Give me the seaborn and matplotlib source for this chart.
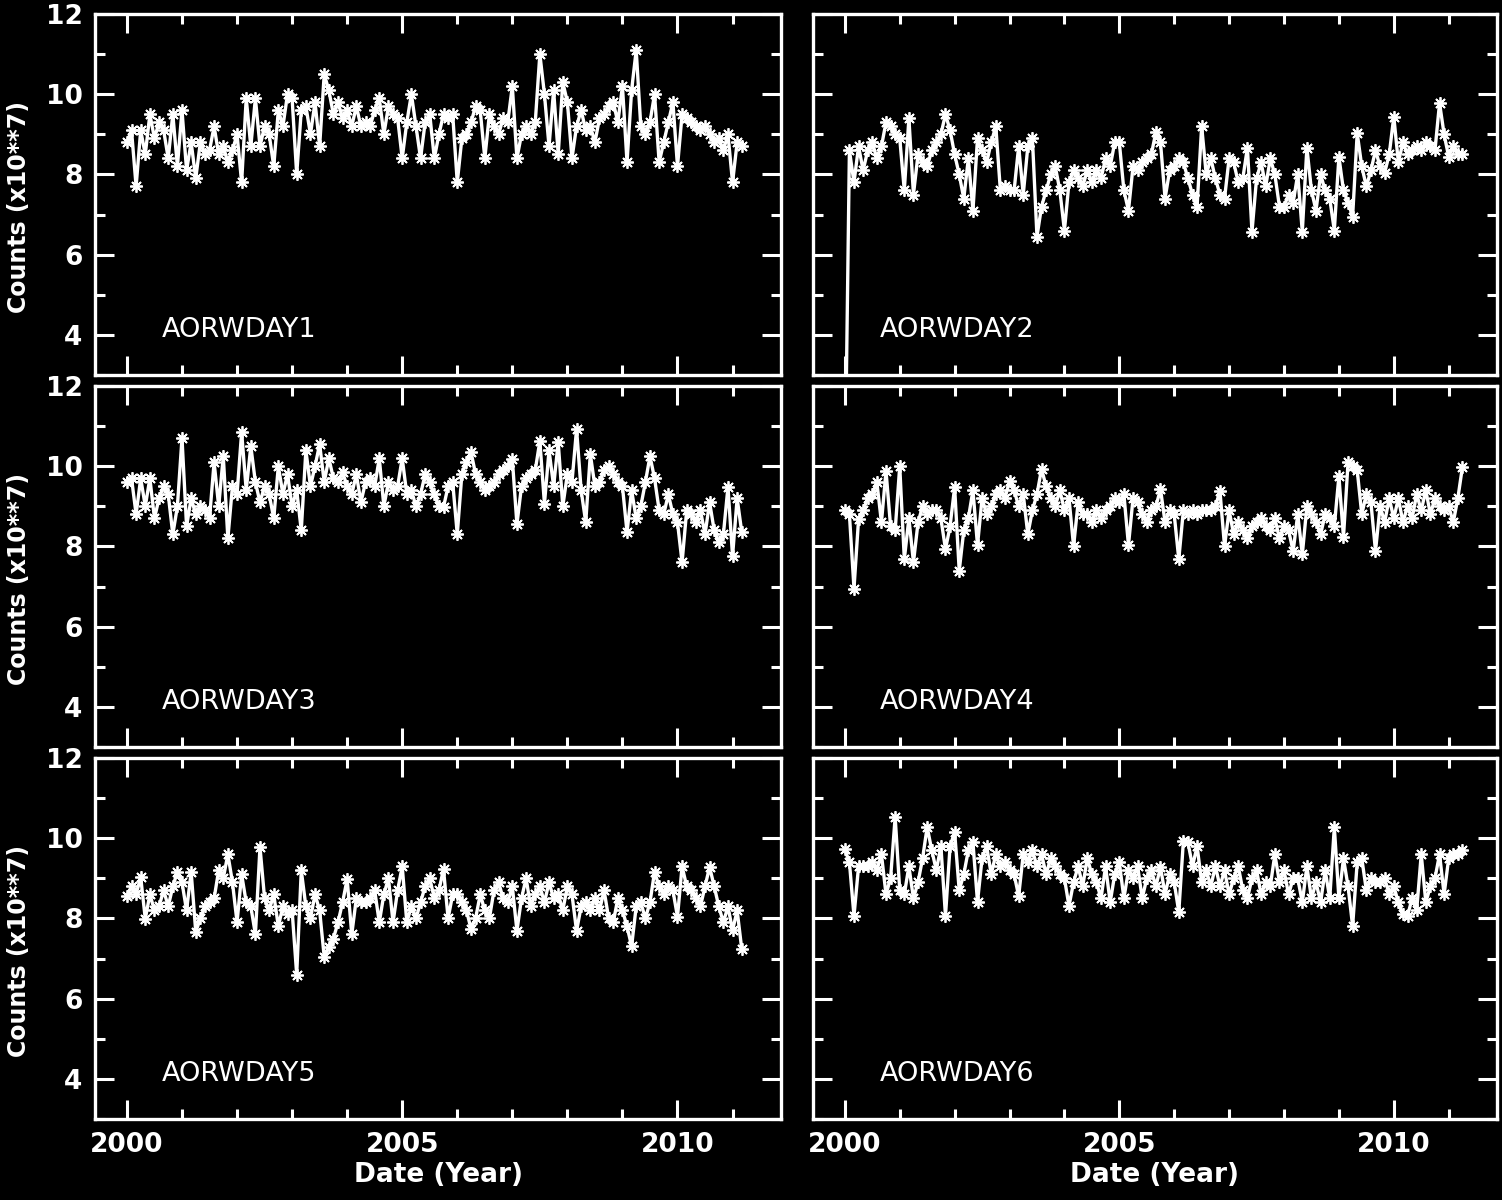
import numpy as np
import pandas as pd
import seaborn as sns
import matplotlib
matplotlib.use('Agg')
import matplotlib.pyplot as plt
from matplotlib.ticker import MultipleLocator

# Monthly counts (x10**7), Jan 2000 onwards
aorwday1 = [
    8.8, 9.1, 7.7, 9.1, 8.5, 9.5, 8.9, 9.3, 9.1, 8.4, 9.5, 8.2,
    9.6, 8.1, 8.8, 7.9, 8.8, 8.5, 8.6, 9.2, 8.5, 8.7, 8.3, 8.6,
    9.0, 7.8, 9.9, 8.7, 9.9, 8.7, 9.2, 9.0, 8.2, 9.6, 9.2, 10.0,
    9.9, 8.0, 9.6, 9.7, 9.0, 9.8, 8.7, 10.5, 10.1, 9.5, 9.8, 9.4,
    9.6, 9.2, 9.7, 9.2, 9.3, 9.2, 9.6, 9.9, 9.0, 9.7, 9.5, 9.4,
    8.4, 9.3, 10.0, 9.2, 8.4, 9.3, 9.5, 8.4, 9.0, 9.5, 9.4, 9.5,
    7.8, 8.9, 9.0, 9.3, 9.7, 9.6, 8.4, 9.5, 9.2, 9.0, 9.4, 9.3,
    10.2, 8.4, 9.0, 9.2, 9.0, 9.3, 11.0, 10.0, 8.7, 10.1, 8.5, 10.3,
    9.8, 8.4, 9.2, 9.6, 9.1, 9.2, 8.8, 9.4, 9.5, 9.7, 9.8, 9.3,
    10.2, 8.3, 10.1, 11.1, 9.2, 9.0, 9.3, 10.0, 8.3, 8.8, 9.3, 9.8,
    8.2, 9.5, 9.4, 9.3, 9.2, 9.1, 9.2, 9.0, 8.8, 8.9, 8.6, 9.0,
    7.8, 8.8, 8.7,
]
aorwday2 = [
    0.0, 8.6, 7.8, 8.7, 8.1, 8.6, 8.8, 8.4, 8.7, 9.3, 9.2, 9.0,
    8.9, 7.6, 9.4, 7.5, 8.5, 8.3, 8.2, 8.6, 8.8, 9.0, 9.5, 9.1,
    8.5, 8.0, 7.4, 8.4, 7.1, 8.9, 8.6, 8.3, 8.8, 9.2, 7.6, 7.7,
    7.6, 7.6, 8.7, 7.5, 8.7, 8.9, 6.45, 7.2, 7.6, 8.0, 8.2, 7.6,
    6.6, 7.8, 8.1, 7.9, 7.7, 8.1, 7.8, 8.1, 7.9, 8.4, 8.2, 8.8,
    8.8, 7.6, 7.1, 8.2, 8.1, 8.3, 8.4, 8.5, 9.06, 8.8, 7.4, 8.1,
    8.2, 8.4, 8.3, 7.9, 7.5, 7.2, 9.2, 8.0, 8.4, 7.9, 7.5, 7.4,
    8.4, 8.3, 7.8, 7.9, 8.67, 6.57, 7.9, 8.3, 7.7, 8.4, 8.0, 7.2,
    7.2, 7.5, 7.3, 8.0, 6.57, 8.67, 7.6, 7.1, 8.0, 7.6, 7.4, 6.6,
    8.44, 7.6, 7.3, 6.95, 9.03, 8.2, 7.7, 8.1, 8.6, 8.2, 8.04, 8.5,
    9.44, 8.3, 8.8, 8.5, 8.6, 8.7, 8.6, 8.8, 8.7, 8.6, 9.78, 9.0,
    8.44, 8.7, 8.5, 8.5,
]
aorwday3 = [
    9.6, 9.7, 8.8, 9.7, 9.0, 9.7, 8.7, 9.2, 9.5, 9.3, 8.3, 9.0,
    10.7, 8.5, 9.2, 8.8, 9.0, 8.9, 8.7, 10.1, 9.0, 10.25, 8.2, 9.5,
    9.3, 10.85, 9.4, 10.5, 9.6, 9.1, 9.5, 9.3, 8.7, 10.0, 9.3, 9.8,
    9.0, 9.4, 8.4, 10.4, 9.5, 10.0, 10.55, 9.6, 10.2, 9.7, 9.6, 9.85,
    9.5, 9.3, 9.8, 9.1, 9.6, 9.7, 9.5, 10.2, 9.0, 9.6, 9.4, 9.5,
    10.2, 9.3, 9.4, 9.0, 9.3, 9.8, 9.6, 9.3, 9.0, 8.98, 9.5, 9.6,
    8.3, 9.8, 10.1, 10.35, 9.8, 9.6, 9.4, 9.5, 9.6, 9.8, 9.9, 10.0,
    10.18, 8.55, 9.5, 9.7, 9.8, 9.9, 10.63, 9.06, 10.4, 9.5, 10.6, 9.0,
    9.8, 9.6, 10.93, 9.4, 8.6, 10.3, 9.5, 9.6, 9.9, 10.0, 9.8, 9.6,
    9.5, 8.35, 9.4, 8.7, 9.0, 9.6, 10.25, 9.7, 8.9, 8.8, 9.3, 8.8,
    8.6, 7.6, 8.9, 8.8, 8.6, 8.9, 8.3, 9.1, 8.4, 8.1, 8.3, 9.48,
    7.76, 9.2, 8.36,
]
aorwday4 = [
    8.9, 8.8, 6.95, 8.68, 8.9, 9.2, 9.3, 9.6, 8.6, 9.88, 8.5, 8.4,
    10.0, 7.68, 8.7, 7.6, 8.6, 9.0, 8.8, 8.9, 8.9, 8.7, 7.93, 8.5,
    9.48, 7.39, 8.4, 8.7, 9.4, 8.03, 9.2, 8.8, 9.0, 9.3, 9.4, 9.2,
    9.63, 9.4, 9.0, 9.3, 8.3, 8.9, 9.3, 9.93, 9.5, 9.2, 9.0, 9.4,
    8.9, 9.2, 8.0, 9.1, 8.8, 8.8, 8.6, 8.9, 8.7, 8.9, 9.0, 9.2,
    9.1, 9.3, 8.03, 9.2, 9.1, 8.8, 8.6, 8.9, 9.0, 9.43, 8.6, 8.9,
    8.8, 7.68, 8.9, 8.8, 8.9, 8.8, 8.9, 8.9, 8.9, 9.0, 9.38, 8.0,
    8.9, 8.3, 8.6, 8.4, 8.2, 8.5, 8.6, 8.7, 8.5, 8.4, 8.7, 8.2,
    8.5, 8.4, 7.88, 8.8, 7.8, 9.0, 8.8, 8.6, 8.3, 8.8, 8.7, 8.5,
    9.75, 8.23, 10.1, 10.0, 9.9, 8.8, 9.3, 9.1, 7.88, 9.0, 8.6, 9.2,
    8.7, 9.2, 8.6, 9.0, 8.7, 9.3, 8.9, 9.4, 8.8, 9.2, 9.0, 8.9,
    9.0, 8.6, 9.2, 9.98,
]
aorwday5 = [
    8.56, 8.8, 8.6, 9.03, 7.99, 8.6, 8.2, 8.3, 8.7, 8.3, 8.8, 9.16,
    8.9, 8.2, 9.16, 7.66, 8.0, 8.3, 8.4, 8.5, 9.2, 9.0, 9.6, 8.9,
    7.9, 9.1, 8.4, 8.3, 7.6, 9.78, 8.5, 8.2, 8.6, 7.8, 8.3, 8.1,
    8.2, 6.6, 9.2, 8.3, 8.0, 8.6, 8.2, 7.04, 7.3, 7.5, 7.9, 8.4,
    8.98, 7.6, 8.5, 8.4, 8.4, 8.5, 8.7, 7.9, 8.6, 9.0, 7.9, 8.7,
    9.3, 7.9, 8.3, 8.0, 8.4, 8.8, 9.0, 8.5, 8.7, 9.23, 8.0, 8.6,
    8.6, 8.4, 8.2, 7.74, 8.0, 8.6, 8.2, 8.0, 8.7, 8.9, 8.5, 8.4,
    8.8, 7.69, 8.5, 9.0, 8.3, 8.6, 8.8, 8.4, 8.9, 8.5, 8.6, 8.2,
    8.8, 8.6, 7.69, 8.3, 8.4, 8.2, 8.5, 8.2, 8.7, 8.0, 7.9, 8.5,
    8.2, 7.8, 7.31, 8.3, 8.4, 8.0, 8.4, 9.16, 8.8, 8.6, 8.8, 8.7,
    8.04, 9.3, 8.8, 8.7, 8.5, 8.3, 8.8, 9.28, 8.8, 8.3, 7.9, 8.3,
    7.7, 8.2, 7.24,
]
aorwday6 = [
    9.73, 9.4, 8.06, 9.3, 9.3, 9.3, 9.4, 9.2, 9.6, 8.6, 9.0, 10.53,
    8.7, 8.6, 9.3, 8.5, 8.9, 9.5, 10.28, 9.7, 9.2, 9.8, 8.06, 9.8,
    10.15, 8.7, 9.1, 9.7, 9.9, 8.41, 9.5, 9.8, 9.1, 9.6, 9.3, 9.4,
    9.2, 9.1, 8.56, 9.6, 9.4, 9.7, 9.3, 9.6, 9.1, 9.5, 9.3, 9.1,
    9.0, 8.31, 8.9, 9.3, 8.8, 9.5, 9.1, 8.9, 8.5, 9.3, 8.4, 9.1,
    9.4, 8.5, 9.2, 9.0, 9.3, 8.5, 9.0, 9.2, 8.8, 9.28, 8.6, 9.1,
    8.9, 8.16, 9.93, 9.9, 9.3, 9.8, 8.9, 9.2, 8.8, 9.3, 8.8, 9.2,
    8.6, 9.0, 9.3, 8.7, 8.5, 9.0, 9.2, 8.6, 8.9, 8.8, 9.6, 8.9,
    9.2, 8.6, 9.0, 9.0, 8.4, 9.3, 8.5, 8.9, 8.4, 9.2, 8.5, 10.28,
    8.5, 9.5, 8.8, 7.81, 9.4, 9.5, 8.7, 9.0, 8.9, 8.9, 9.0, 8.6,
    8.8, 8.4, 8.1, 8.06, 8.5, 8.2, 9.6, 8.4, 8.8, 9.0, 9.6, 8.6,
    9.5, 9.6, 9.6, 9.7,
]

panel_names = ["AORWDAY1", "AORWDAY2", "AORWDAY3", "AORWDAY4", "AORWDAY5", "AORWDAY6"]
panel_values = [aorwday1, aorwday2, aorwday3, aorwday4, aorwday5, aorwday6]
start_year = 2000.0

frames = []
for name, values in zip(panel_names, panel_values):
    frames.append(pd.DataFrame({
        "panel": name,
        "year": start_year + np.arange(len(values)) / 12.0,
        "counts": values,
    }))
df = pd.concat(frames, ignore_index=True)

sns.set_theme(style="dark", rc={
    "figure.facecolor": "black",
    "axes.facecolor": "black",
    "axes.edgecolor": "white",
    "text.color": "white",
    "axes.labelcolor": "white",
    "xtick.color": "white",
    "ytick.color": "white",
})
plt.rcParams['font.family'] = ['DejaVu Sans']

fig = plt.figure(figsize=(15.02, 12), dpi=100)
lefts = [95 / 1502, 813 / 1502]
widths = [686 / 1502, 684 / 1502]
bottoms = [1 - 375 / 1200, 1 - 747 / 1200, 1 - 1119 / 1200]
height = 361 / 1200

asterisk = (8, 2, 0)

for i, name in enumerate(panel_names):
    row, col = divmod(i, 2)
    ax = fig.add_axes([lefts[col], bottoms[row], widths[col], height])
    sns.lineplot(
        data=df[df["panel"] == name], x="year", y="counts",
        color="white", linewidth=2.4, marker=asterisk, markersize=9,
        markeredgewidth=1.3, markeredgecolor="white", ax=ax, legend=False,
    )
    ax.set_xlim(1999.42, 2011.88)
    ax.set_ylim(3, 12)
    for s in ax.spines.values():
        s.set_linewidth(2.4)
        s.set_color("white")
    ax.xaxis.set_major_locator(MultipleLocator(5))
    ax.xaxis.set_minor_locator(MultipleLocator(1))
    ax.yaxis.set_major_locator(MultipleLocator(2))
    ax.yaxis.set_minor_locator(MultipleLocator(1))
    ax.set_yticks([4, 6, 8, 10, 12])
    ax.tick_params(which="both", direction="in", top=True, right=True,
                   bottom=True, left=True, color="white", width=2.2)
    ax.tick_params(which="major", length=14)
    ax.tick_params(which="minor", length=7)
    ax.tick_params(labelsize=19, pad=9)
    for lab in ax.get_xticklabels() + ax.get_yticklabels():
        lab.set_fontweight("bold")
    ax.grid(False)

    if col == 0:
        ax.set_ylabel("Counts (x10**7)", fontsize=17, fontweight="bold")
        ax.yaxis.set_label_coords(-0.094, 0.465)
    else:
        ax.set_ylabel("")
        ax.tick_params(labelleft=False)
    if row == 2:
        ax.set_xlabel("Date (Year)", fontsize=19, fontweight="bold", labelpad=3)
    else:
        ax.set_xlabel("")
        ax.tick_params(labelbottom=False)

    ax.text(0.098, 0.125, name, transform=ax.transAxes, fontsize=19.5,
            fontweight="medium", color="white", ha="left", va="center")

fig.savefig("out.png", dpi=100, facecolor="black")
